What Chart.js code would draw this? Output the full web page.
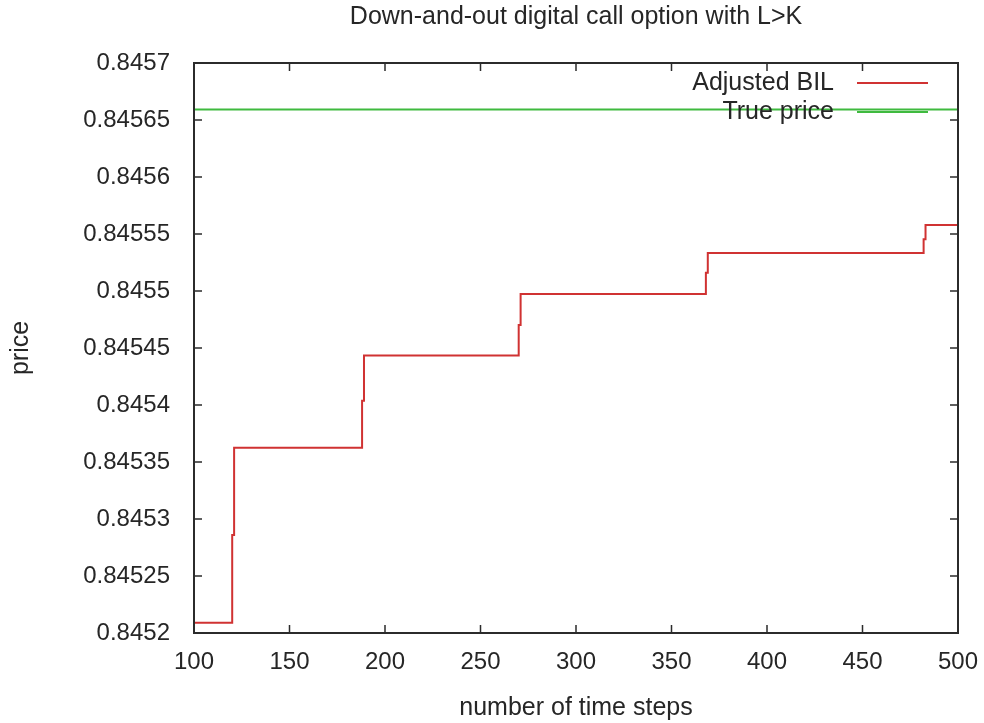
<!DOCTYPE html>
<html>
<head>
<meta charset="utf-8">
<title>Down-and-out digital call option with L>K</title>
<script src="https://cdn.jsdelivr.net/npm/chart.js@4.4.1/dist/chart.umd.min.js"></script>
<style>
  html, body { margin: 0; padding: 0; background: #fff; }
  #wrap { width: 984px; height: 723px; }
</style>
</head>
<body>
<div id="wrap"><canvas id="chart" width="984" height="723"></canvas></div>
<script>
// values
const stepsBIL = [100, 120, 121, 188, 189, 270, 271, 368, 369, 482, 483, 500];
const priceBIL = [0.845209, 0.845286, 0.8453625, 0.8454037, 0.8454435, 0.8454701,
                  0.8454973, 0.845516, 0.8455333, 0.8455455, 0.845558, 0.845558];
const stepsTrue = [100, 500];
const priceTrue = [0.8456593, 0.8456593];

const FAMILY = '"Liberation Sans", Arial, sans-serif';
const TICK_FONT = { family: FAMILY, size: 24 };
const TEXT_FONT = { family: FAMILY, size: 25 };
const TXT = '#262626';

function toPoints(xs, ys) {
    return xs.map((x, i) => ({ x: x, y: ys[i] }));
}

// gnuplot style: frame, inward ticks on all four sides, legend inside top right
const gnuplotFrame = {
    id: 'gnuplotFrame',
    afterDatasetsDraw(chart) {
        const { ctx, chartArea: a, scales } = chart;
        const tl = 8;
        ctx.save();
        ctx.strokeStyle = '#2b2b2b';
        ctx.lineWidth = 1.5;
        ctx.beginPath();
        scales.x.ticks.forEach(t => {
            const px = scales.x.getPixelForValue(t.value);
            ctx.moveTo(px, a.bottom); ctx.lineTo(px, a.bottom - tl);
            ctx.moveTo(px, a.top); ctx.lineTo(px, a.top + tl);
        });
        scales.y.ticks.forEach(t => {
            const py = scales.y.getPixelForValue(t.value);
            ctx.moveTo(a.left, py); ctx.lineTo(a.left + tl, py);
            ctx.moveTo(a.right, py); ctx.lineTo(a.right - tl, py);
        });
        ctx.stroke();
        ctx.lineWidth = 2;
        ctx.strokeRect(a.left, a.top, a.right - a.left, a.bottom - a.top);

        // legend
        ctx.font = TEXT_FONT.size + 'px ' + FAMILY;
        ctx.textAlign = 'right';
        ctx.textBaseline = 'middle';
        chart.data.datasets.forEach((ds, i) => {
            const y = a.top + 20 + i * 29;
            ctx.fillStyle = TXT;
            ctx.fillText(ds.label, a.right - 124, y);
            ctx.strokeStyle = ds.borderColor;
            ctx.lineWidth = 2;
            ctx.beginPath();
            ctx.moveTo(a.right - 101, y);
            ctx.lineTo(a.right - 30, y);
            ctx.stroke();
        });
        ctx.restore();
    }
};

new Chart(document.getElementById('chart'), {
    type: 'line',
    data: {
        datasets: [{
            label: 'Adjusted BIL',
            data: toPoints(stepsBIL, priceBIL),
            borderColor: '#d03232',
            borderWidth: 2,
            stepped: 'before',
            pointRadius: 0,
            fill: false
        }, {
            label: 'True price',
            data: toPoints(stepsTrue, priceTrue),
            borderColor: '#3fba3f',
            borderWidth: 2,
            pointRadius: 0,
            fill: false
        }]
    },
    options: {
        responsive: false,
        animation: false,
        devicePixelRatio: 1,
        layout: { padding: { left: 0, right: 26, top: 0, bottom: 0 } },
        plugins: {
            legend: { display: false },
            tooltip: { enabled: false },
            title: {
                display: true,
                fullSize: false,
                text: 'Down-and-out digital call option with L>K',
                color: TXT,
                font: { family: FAMILY, size: 25, weight: 'normal' },
                padding: { top: 2, bottom: 31 }
            }
        },
        scales: {
            x: {
                type: 'linear',
                min: 100,
                max: 500,
                grid: { display: false, drawTicks: false },
                border: { display: false },
                ticks: { stepSize: 50, padding: 15, color: TXT, font: TICK_FONT, maxRotation: 0 },
                title: { display: true, text: 'number of time steps', color: TXT, font: TEXT_FONT, padding: { top: 1, bottom: 0 } },
                afterFit(s) { s.height = 90; s.paddingLeft = 0; s.paddingRight = 0; }
            },
            y: {
                type: 'linear',
                min: 0.8452,
                max: 0.8457,
                grid: { display: false, drawTicks: false },
                border: { display: false },
                ticks: {
                    stepSize: 0.00005,
                    padding: 24,
                    color: TXT,
                    font: TICK_FONT,
                    callback: v => String(parseFloat(v.toFixed(5)))
                },
                title: { display: true, text: 'price', color: TXT, font: TEXT_FONT, padding: { top: 6, bottom: 0 } },
                afterFit(s) { s.width = 194; s.paddingTop = 0; s.paddingBottom = 0; }
            }
        }
    },
    plugins: [gnuplotFrame]
});
</script>
</body>
</html>
